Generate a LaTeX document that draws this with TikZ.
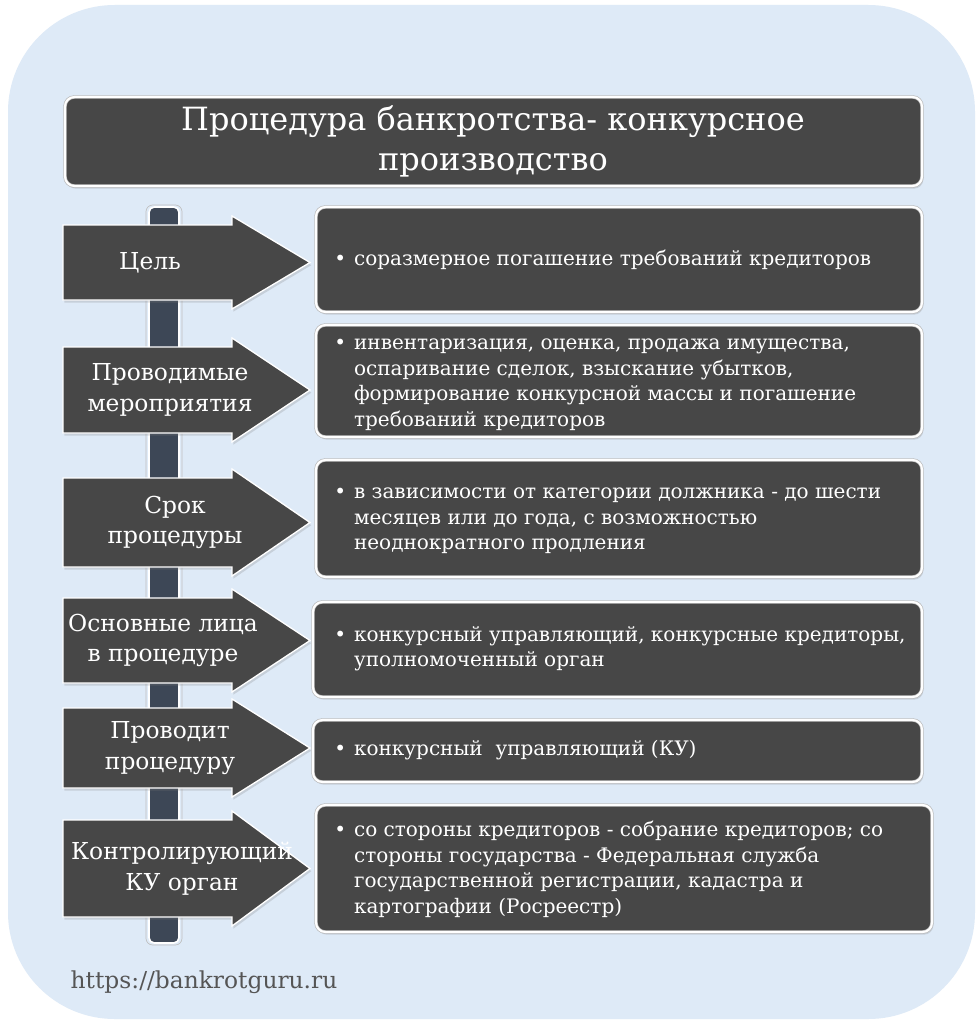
\documentclass[tikz,border=0pt]{standalone}
\usepackage{fontspec}
\setmainfont{DejaVu Serif}
\usetikzlibrary{shadows,fit}

\definecolor{bgblue}{HTML}{DEEAF7}
\definecolor{boxgray}{HTML}{474747}
\definecolor{polegray}{HTML}{3D4756}
\definecolor{urlgray}{HTML}{555555}

\begin{document}
\begin{tikzpicture}[x=0.75pt,y=-0.75pt,
  darkbox/.style={rounded corners=7pt,fill=boxgray,draw=gray!55,double=white,double distance=1.6pt,line width=0.5pt,
    drop shadow={opacity=0.25,shadow xshift=1pt,shadow yshift=-2pt}},
  arrowbox/.style={fill=boxgray,draw=white,line width=1pt,
    drop shadow={opacity=0.25,shadow xshift=1pt,shadow yshift=-2pt}},
  lefttext/.style={text=white,align=center,font=\fontsize{17.5}{23}\selectfont},
  boxtext/.style={text=white,anchor=west,inner sep=0pt,font=\fontsize{15}{19.2}\selectfont}]

% page and background
\useasboundingbox (0,0) rectangle (980,1024);
\fill[white] (0,0) rectangle (980,1024);
\fill[bgblue,rounded corners=80pt] (8,5) rectangle (975,1019);

% title
\node[darkbox,fit={(65,97) (922,186)},inner sep=0pt] (title) {};
\node[text=white,align=center,font=\fontsize{24}{30}\selectfont] (titletext) at (493,141) {Процедура банкротства- конкурсное\\производство};

% pole
\draw[fill=polegray,draw=white,line width=1.2pt,rounded corners=4pt] (149,207) rectangle (179,943);
\draw[gray!50,line width=0.5pt,rounded corners=5pt] (146,205) rectangle (182,945);

% arrows on the left
\foreach \t/\b/\tx/\lab/\n in {
    225/300/150/{Цель}/a1,
    347/433/170/{Проводимые\\мероприятия}/a2,
    478/567/175/{Срок\\процедуры}/a3,
    598/683/163/{Основные лица\\в процедуре}/a4,
    708/788/170/{Проводит\\процедуру}/a5,
    820/917/182/{Контролирующий\\КУ орган}/a6}{
  \pgfmathsetmacro{\m}{(\t+\b)/2}
  \pgfmathsetmacro{\hu}{\t-9}
  \pgfmathsetmacro{\hd}{\b+9}
  \path[arrowbox] (63,\t) -- (232,\t) -- (232,\hu) -- (310,\m) -- (232,\hd) -- (232,\b) -- (63,\b) -- cycle;
  \node[lefttext] (\n) at (\tx,\m) {\lab};
}

% boxes on the right
\node[darkbox,fit={(316,207) (922,312)},inner sep=0pt] (b1) {};
\node[darkbox,fit={(316,325) (922,437)},inner sep=0pt] (b2) {};
\node[darkbox,fit={(316,460) (922,577)},inner sep=0pt] (b3) {};
\node[darkbox,fit={(313,602) (922,697)},inner sep=0pt] (b4) {};
\node[darkbox,fit={(313,720) (922,782)},inner sep=0pt] (b5) {};
\node[darkbox,fit={(316,805) (932,932)},inner sep=0pt] (b6) {};

\node[boxtext] (t1) at (334,260) {\begin{tabular}{@{}l@{\hspace{6pt}}l@{}}
  \textbullet & соразмерное погашение требований кредиторов\end{tabular}};
\node[boxtext] (t2) at (334,383) {\begin{tabular}{@{}l@{\hspace{6pt}}l@{}}
  \textbullet & инвентаризация, оценка, продажа имущества,\\
  & оспаривание сделок, взыскание убытков,\\
  & формирование конкурсной массы и погашение\\
  & требований кредиторов\end{tabular}};
\node[boxtext] (t3) at (334,519) {\begin{tabular}{@{}l@{\hspace{6pt}}l@{}}
  \textbullet & в зависимости от категории должника - до шести\\
  & месяцев или до года, с возможностью\\
  & неоднократного продления\end{tabular}};
\node[boxtext] (t4) at (334,649) {\begin{tabular}{@{}l@{\hspace{6pt}}l@{}}
  \textbullet & конкурсный управляющий, конкурсные кредиторы,\\
  & уполномоченный орган\end{tabular}};
\node[boxtext] (t5) at (334,750) {\begin{tabular}{@{}l@{\hspace{6pt}}l@{}}
  \textbullet & конкурсный\ \ управляющий (КУ)\end{tabular}};
\node[boxtext] (t6) at (334,870) {\begin{tabular}{@{}l@{\hspace{6pt}}l@{}}
  \textbullet & со стороны кредиторов - собрание кредиторов; со\\
  & стороны государства - Федеральная служба\\
  & государственной регистрации, кадастра и\\
  & картографии (Росреестр)\end{tabular}};

% site address
\node[text=urlgray,anchor=west,font=\fontsize{17.5}{21}\selectfont] (url) at (66,982) {https://bankrotguru.ru};
\end{tikzpicture}
\end{document}
